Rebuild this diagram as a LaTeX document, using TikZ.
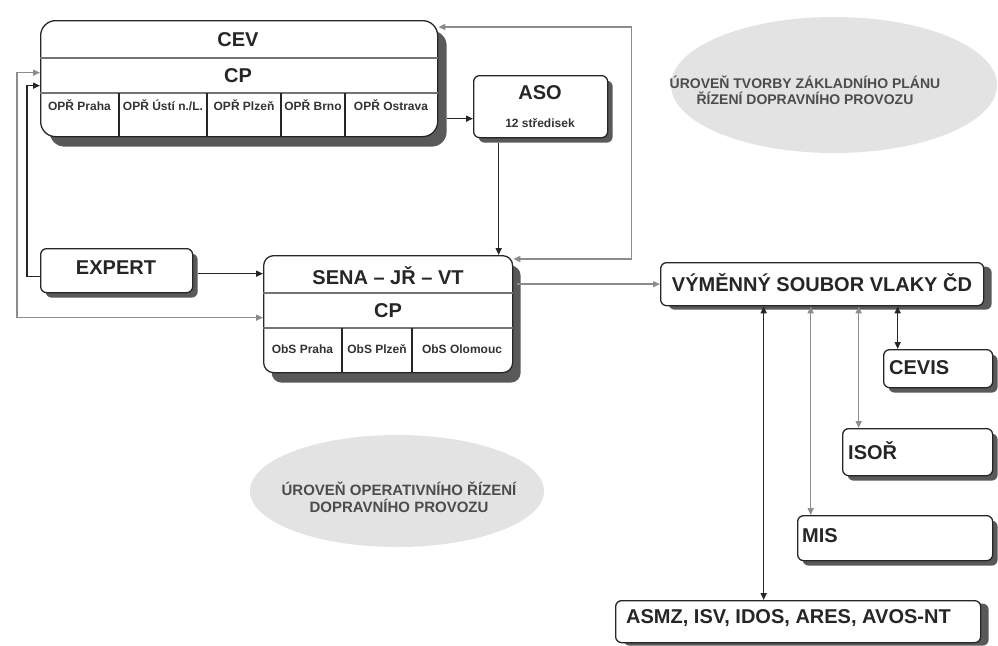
\documentclass[tikz,border=0pt]{standalone}
\usepackage{fontspec}
\setmainfont{Liberation Sans}
\usetikzlibrary{arrows.meta,shadows,shapes.geometric,calc}
\begin{document}
\begin{tikzpicture}[x=1pt,y=-1pt,
  >={Triangle[length=7pt,width=6pt]},
  box/.style={draw=black!85, line width=1.3pt, fill=white, rounded corners=6pt, inner sep=0pt, anchor=north west},
  shadowxy/.style 2 args={drop shadow={shadow xshift=#1pt, shadow yshift=-#2pt, fill=black!65, opacity=1}},
  big/.style={font=\fontsize{20}{23}\selectfont\bfseries, inner sep=0pt, text=black!85},
  cell/.style={font=\fontsize{12}{14}\selectfont\bfseries, inner sep=0pt, text=black!80},
  etext/.style={font=\fontsize{14}{16}\selectfont\bfseries, inner sep=0pt, text=black!70, align=center},
  ell/.style={ellipse, fill=black!11, inner sep=0pt},
  divider/.style={draw=black!55, line width=1.3pt},
  coldiv/.style={draw=black!85, line width=1.3pt},
  arr/.style={draw=black!85, line width=1.5pt},
  garr/.style={draw=black!45, line width=1.5pt}]
\useasboundingbox (0,0) rectangle (998,645);

% background ellipses
\node[ell, minimum width=326pt, minimum height=136pt] (e1) at (834,85) {};
\node[etext] (e1t) at (805,90) {ÚROVEŇ TVORBY ZÁKLADNÍHO PLÁNU\\ŘÍZENÍ DOPRAVNÍHO PROVOZU};
\node[ell, minimum width=294pt, minimum height=112pt] (e2) at (397,491) {};
\node[etext, font=\fontsize{15}{17}\selectfont\bfseries] (e2t) at (399,497) {ÚROVEŇ OPERATIVNÍHO ŘÍZENÍ\\DOPRAVNÍHO PROVOZU};

% CEV box
\node[box, rounded corners=15pt, minimum width=397pt, minimum height=116pt, shadowxy={9}{10}] (cev) at (40,20) {};
\draw[divider] ($(cev.north west)+(0,38)$) -- ($(cev.north east)+(0,38)$);
\draw[divider] ($(cev.north west)+(0,73)$) -- ($(cev.north east)+(0,73)$);
\foreach \dx in {79,167,241,305}
  \draw[coldiv] ($(cev.north west)+(\dx,73)$) -- ($(cev.north west)+(\dx,116)$);
\node[big] (cevl) at (238,40) {CEV};
\node[big] (cevcp) at (238,76) {CP};
\node[cell] (o1) at (79.5,105) {OPŘ Praha};
\node[cell] (o2) at (163,105) {OPŘ Ústí n./L.};
\node[cell] (o3) at (244,105) {OPŘ Plzeň};
\node[cell] (o4) at (313,105) {OPŘ Brno};
\node[cell] (o5) at (391,105) {OPŘ Ostrava};

% ASO
\node[box, minimum width=134pt, minimum height=62pt, shadowxy={5}{5}] (aso) at (473,75) {};
\node[big] (asol) at (540,93) {ASO};
\node[cell] (asos) at (540,123) {12 středisek};

% EXPERT
\node[box, minimum width=152pt, minimum height=44pt, shadowxy={5}{5}] (expert) at (40,248) {};
\node[big] (expl) at (116,268) {EXPERT};

% SENA
\node[box, rounded corners=10pt, minimum width=249pt, minimum height=117pt, shadowxy={8}{10}] (sena) at (263,255) {};
\draw[divider] ($(sena.north west)+(0,38)$) -- ($(sena.north east)+(0,38)$);
\draw[divider] ($(sena.north west)+(0,73)$) -- ($(sena.north east)+(0,73)$);
\foreach \dx in {79,149}
  \draw[coldiv] ($(sena.north west)+(\dx,73)$) -- ($(sena.north west)+(\dx,117)$);
\node[big] (senal) at (388,276) {SENA – JŘ – VT};
\node[big] (senacp) at (388,311) {CP};
\node[cell] (s1) at (302.5,349) {ObS Praha};
\node[cell] (s2) at (377,349) {ObS Plzeň};
\node[cell] (s3) at (462,349) {ObS Olomouc};

% right side boxes
\node[box, minimum width=323pt, minimum height=43pt, shadowxy={8}{4}] (vym) at (660,262) {};
\node[big] (vyml) at (822,283) {VÝMĚNNÝ SOUBOR VLAKY ČD};
\node[box, minimum width=109pt, minimum height=38pt, shadowxy={5}{5}] (cevis) at (883,349) {};
\node[big, anchor=west] (cevisl) at (889,368) {CEVIS};
\node[box, minimum width=150pt, minimum height=47pt, shadowxy={5}{5}] (isor) at (842,428) {};
\node[big, anchor=west] (isorl) at (848,451) {ISOŘ};
\node[box, minimum width=195pt, minimum height=45pt, shadowxy={5}{5}] (mis) at (797,515) {};
\node[big, anchor=west] (misl) at (802,536) {MIS};
\node[box, minimum width=365pt, minimum height=42pt, shadowxy={8}{3}] (asmz) at (615,600) {};
\node[big, anchor=west] (asmzl) at (626,618) {ASMZ, ISV, IDOS, ARES, AVOS-NT};

% connectors
\draw[garr,<->] ([yshift=6pt]cev.west) -- ++(-23,0) |- ([yshift=-3.5pt]sena.west);
\draw[arr,->] ([yshift=-6pt]expert.west) -- ++(-13,0) |- ([yshift=-7pt]cev.west);
\coordinate (ex) at ([yshift=-3pt]expert.east);
\draw[arr,->] ([xshift=5pt]ex) -- (ex -| sena.west);
\coordinate (ca) at ([xshift=9pt,yshift=-40pt]cev.east);
\draw[arr,->] (ca) -- (ca -| aso.west);
\coordinate (as) at ([xshift=-42pt,yshift=-5pt]aso.south);
\draw[arr,->] (as) -- (as |- sena.north);
\coordinate (sr) at ([yshift=-4pt]sena.north east);
\coordinate (cr) at ([yshift=-7pt]cev.north east);
\draw[garr,<->] (sr) -- ++(118,0) |- (cr);
\coordinate (sv) at (sena.east |- vym.west);
\draw[garr,->] ([xshift=4pt]sv) -- (vym.west);
\coordinate (v1) at ([xshift=-58.5pt]vym.south);
\coordinate (v2) at ([xshift=-11.5pt]vym.south);
\coordinate (v3) at ([xshift=36.5pt]vym.south);
\coordinate (v4) at ([xshift=75.5pt]vym.south);
\draw[arr,<->] (v1) -- (v1 |- asmz.north);
\draw[garr,<->] (v2) -- (v2 |- mis.north);
\draw[garr,<->] (v3) -- (v3 |- isor.north);
\draw[arr,<->] (v4) -- (v4 |- cevis.north);
\end{tikzpicture}
\end{document}
